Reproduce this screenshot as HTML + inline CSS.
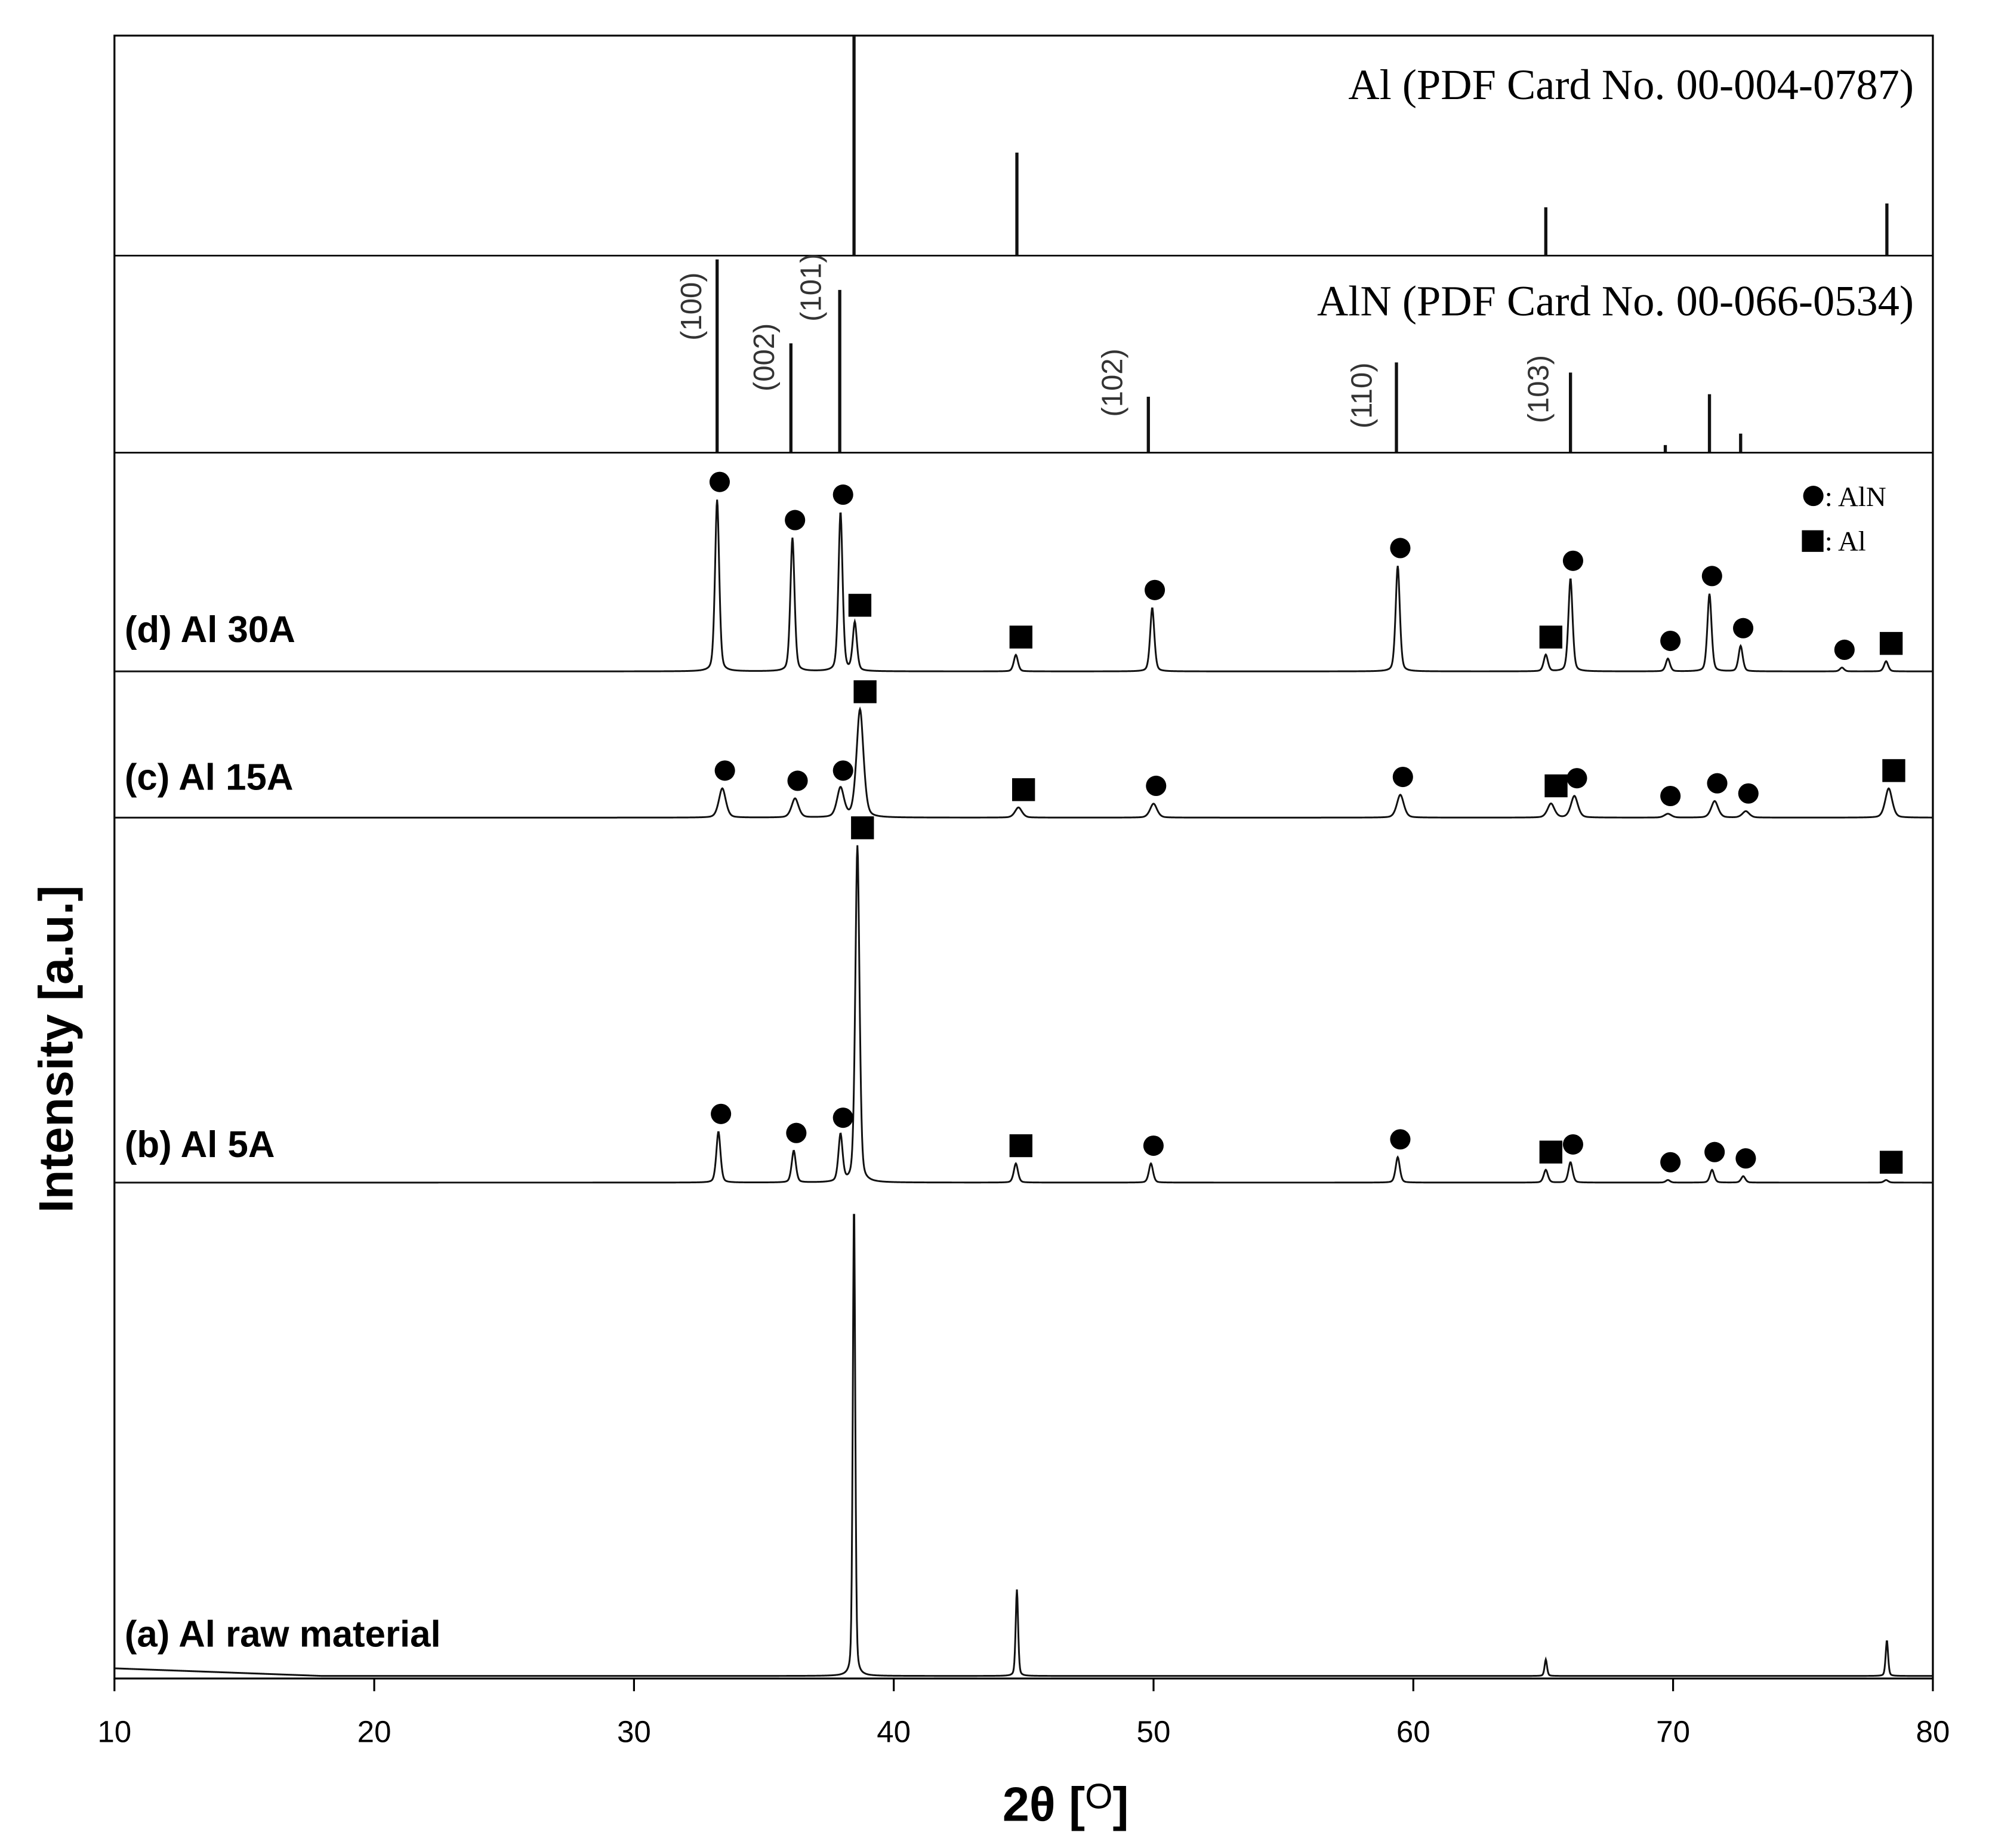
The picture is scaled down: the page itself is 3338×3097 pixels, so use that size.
<!DOCTYPE html>
<html><head><meta charset="utf-8"><style>html,body{margin:0;padding:0;background:#fff}svg{display:block}</style></head>
<body>
<svg width="3338" height="3097" viewBox="0 0 1566.5 1453.3" preserveAspectRatio="none" xmlns="http://www.w3.org/2000/svg" id="chart">
<g id="g"></g>
</svg>
<script>
// ---- data ----
const alCardAngles=[38.47,44.74,65.1,78.23];
const alCardHeights=[173,81,38,41];
const alnCardAngles=[33.2,36.04,37.92,49.8,59.35,66.05,69.7,71.4,72.6];
const alnCardHeights=[152,86,128,44,71,63,6,46,15];
const millerLabels=['(100)','(002)','(101)','(102)','(110)','(103)'];
const millerAngles=[32.2,35.0,36.8,48.4,58.0,64.8];
const millerHeights=[115,75,130,55,45,50];
const seriesNames=['(a) Al raw material','(b) Al 5A','(c) Al 15A','(d) Al 30A'];
const seriesOffsets=[2,390,677,792];
const seriesWidths=[0.07,0.12,0.2,0.12];
const aAngles=[38.47,44.74,65.1,78.23];
const aHeights=[373,68,13,28];
const bAngles=[33.25,36.15,37.95,38.6,44.7,49.9,59.4,65.1,66.05,69.8,71.5,72.7,78.2];
const bHeights=[40,25,37,265,15,15,20,10,16,2,10,5,2];
const cAngles=[33.4,36.2,37.95,38.7,44.8,50.0,59.5,65.3,66.2,69.8,71.6,72.8,78.3];
const cHeights=[23,15,23,85,8,11,18,11,17,3,13,5,23];
const dAngles=[33.2,36.1,37.95,38.5,44.7,49.95,59.4,65.1,66.05,69.8,71.4,72.6,76.5,78.2];
const dHeights=[135,105,125,38,13,50,83,13,73,10,61,20,3,8];
const markerKinds=[[],
 ['c','c','c','s','s','c','c','s','c','c','c','c','s'],
 ['c','c','c','s','s','c','c','s','c','c','c','c','s'],
 ['c','c','c','s','s','c','c','s','c','c','c','c','c','s']];
// ---- layout ----
const L=90,R=1520,T=28,B=1320,P1=201,P2=356;
const xs=v=>L+(v-10)/70*(R-L);
const ys=v=>B-v;
const NS='http://www.w3.org/2000/svg';
const g=document.getElementById('g');
function el(t,a,txt){const e=document.createElementNS(NS,t);for(const k in a)e.setAttribute(k,a[k]);if(txt!==undefined)e.textContent=txt;g.appendChild(e);return e;}
let e=el('rect',{x:L,y:T,width:R-L,height:B-T,fill:'none',stroke:'#000','stroke-width':1.5});

e=el('line',{x1:L,x2:R,y1:P1,y2:P1,stroke:'#000','stroke-width':1.3});

e=el('line',{x1:L,x2:R,y1:P2,y2:P2,stroke:'#000','stroke-width':1.3});

alCardAngles.forEach((a,i)=>{e=el('line',{x1:xs(a),x2:xs(a),y1:P1,y2:P1-alCardHeights[i],stroke:'#111','stroke-width':2.5});
});
alnCardAngles.forEach((a,i)=>{e=el('line',{x1:xs(a),x2:xs(a),y1:P2,y2:P2-alnCardHeights[i],stroke:'#111','stroke-width':2.5});
});
e=el('text',{x:1505,y:78,'text-anchor':'end','font-family':'Liberation Serif, serif','font-size':34},'Al (PDF Card No. 00-004-0787)');

e=el('text',{x:1505,y:248,'text-anchor':'end','font-family':'Liberation Serif, serif','font-size':34},'AlN (PDF Card No. 00-066-0534)');

millerLabels.forEach((m,i)=>{const x=xs(millerAngles[i])+8,y=P2-millerHeights[i];
e=el('text',{x:x,y:y,'text-anchor':'middle','font-family':'Liberation Sans, sans-serif','font-size':23,fill:'#333',transform:`rotate(-90 ${x} ${y})`},m);
});
const angleSets=[aAngles,bAngles,cAngles,dAngles],heightSets=[aHeights,bHeights,cHeights,dHeights];
for(let s=0;s<4;s++){
 let d='';const w=seriesWidths[s];
 for(let t=10;t<=80.0001;t+=0.02){
  let v=seriesOffsets[s];
  if(s===0&&t<18)v+=Math.max(0,(18-t)/8)*6;
  angleSets[s].forEach((a,i)=>{const z=(t-a)/w;v+=heightSets[s][i]/(1+z*z*2)*(0.4)+heightSets[s][i]*0.6*Math.exp(-z*z);});
  d+=(d?'L':'M')+xs(t).toFixed(2)+' '+ys(v).toFixed(2);
 }
 e=el('path',{d:d,fill:'none',stroke:'#111','stroke-width':1.4});
 
 if(s>0){angleSets[s].forEach((a,i)=>{const x=xs(a)+(markerKinds[s][i]==='s'?4:2),y=ys(seriesOffsets[s]+heightSets[s][i])-14;
  if(markerKinds[s][i]==='c'){e=el('circle',{cx:x,cy:y,r:8,fill:'#000'});}
  else{e=el('rect',{x:x-9,y:y-9,width:18,height:18,fill:'#000'});}
  });}
}
const labelY=[1295,910,621,505];
seriesNames.forEach((n,i)=>{e=el('text',{x:98,y:labelY[i],'font-family':'Liberation Sans, sans-serif','font-weight':'bold','font-size':29},n);
});
e=el('circle',{cx:1426,cy:390,r:8,fill:'#000'});
e=el('text',{x:1435,y:398,'font-family':'Liberation Serif, serif','font-size':22},': AlN');
e=el('rect',{x:1417,y:417,width:17,height:17,fill:'#000'});
e=el('text',{x:1435,y:433,'font-family':'Liberation Serif, serif','font-size':22},': Al');
const xTicks=[10,20,30,40,50,60,70,80];
xTicks.forEach(t=>{e=el('line',{x1:xs(t),x2:xs(t),y1:B,y2:B+10,stroke:'#000','stroke-width':1.5});

e=el('text',{x:xs(t),y:1370,'text-anchor':'middle','font-family':'Liberation Sans, sans-serif','font-size':24},String(t));
});
e=el('text',{x:838,y:1432,'text-anchor':'middle','font-family':'Liberation Sans, sans-serif','font-weight':'bold','font-size':38});

e.innerHTML='2θ [<tspan dy="-10" font-size="28" font-weight="normal">O</tspan><tspan dy="10">]</tspan>';
e=el('text',{x:57,y:825,'text-anchor':'middle','font-family':'Liberation Sans, sans-serif','font-weight':'bold','font-size':38,transform:'rotate(-90 57 825)'},'Intensity [a.u.]');

</script>
</body></html>
